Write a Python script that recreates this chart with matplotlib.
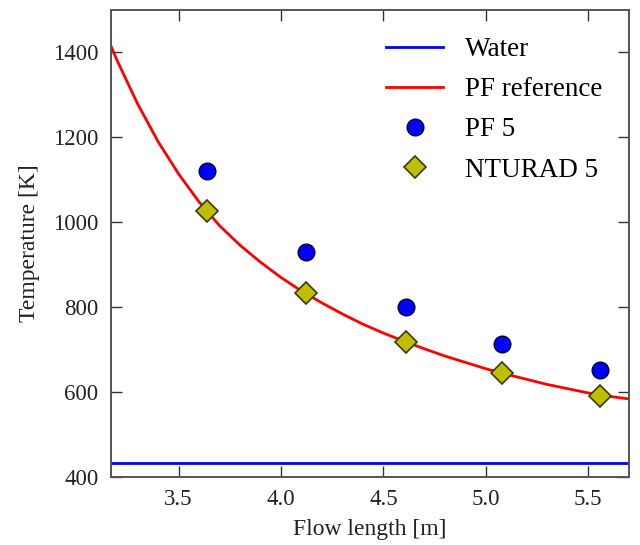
import matplotlib
matplotlib.use("Agg")
import matplotlib.pyplot as plt

# values
water_level = 432.0

ref_x = [3.17, 3.2, 3.3, 3.4, 3.5, 3.6, 3.7, 3.8, 3.9, 4.0, 4.1, 4.2, 4.3, 4.4,
         4.5, 4.6, 4.7, 4.8, 4.9, 5.0, 5.1, 5.2, 5.3, 5.4, 5.5, 5.6, 5.7]
ref_T = [1415, 1381, 1279, 1190, 1114, 1048, 992, 946, 906, 870, 838, 810, 784, 760,
         739, 720, 702, 685, 670, 655, 642, 630, 618, 608, 598, 590, 584]

pos = [3.64, 4.12, 4.61, 5.08, 5.56]
pf5 = [1120, 929, 800, 714, 652]
nturad5 = [1026, 833, 718, 645, 591]

plt.rcParams["font.family"] = ["Liberation Serif", "DejaVu Serif"]

fig = plt.figure(figsize=(6.4, 5.45), dpi=100)
ax = fig.add_axes([0.1734, 0.1248, 0.8096, 0.8569])

ax.axhline(water_level, color="#0000ff", lw=2, label="Water")
ax.plot(ref_x, ref_T, color="#ff0000", lw=2, solid_joinstyle="round",
        label="PF reference")
ax.plot(pos, pf5, "o", ms=12, mfc="#0000ff", mec="#000033", mew=1,
        ls="none", label="PF 5")
ax.plot(pos, nturad5, "D", ms=11, mfc=(0.75, 0.75, 0), mec="#3a3a10", mew=1.2,
        ls="none", label="NTURAD 5")

ax.set_xlim(3.17, 5.7)
ax.set_ylim(400, 1500)
ax.set_xticks([3.5, 4.0, 4.5, 5.0, 5.5])
ax.set_yticks([400, 600, 800, 1000, 1200, 1400])

ax.tick_params(direction="in", length=8, width=1, top=True, right=True,
               labelsize=16.5, pad=9, colors="#333333", labelcolor="#222222")
for s in ax.spines.values():
    s.set_color("#555555")
    s.set_linewidth(1.4)

ax.set_xlabel("Flow length [m]", fontsize=17, color="#222222", labelpad=6)
ax.set_ylabel("Temperature [K]", fontsize=17, color="#222222", labelpad=9)

ax.legend(loc="upper right", frameon=False, fontsize=19.5, numpoints=1,
          handlelength=2.1, handletextpad=0.8, labelspacing=0.56,
          borderaxespad=0.6)

fig.savefig("out.png", dpi=100)
